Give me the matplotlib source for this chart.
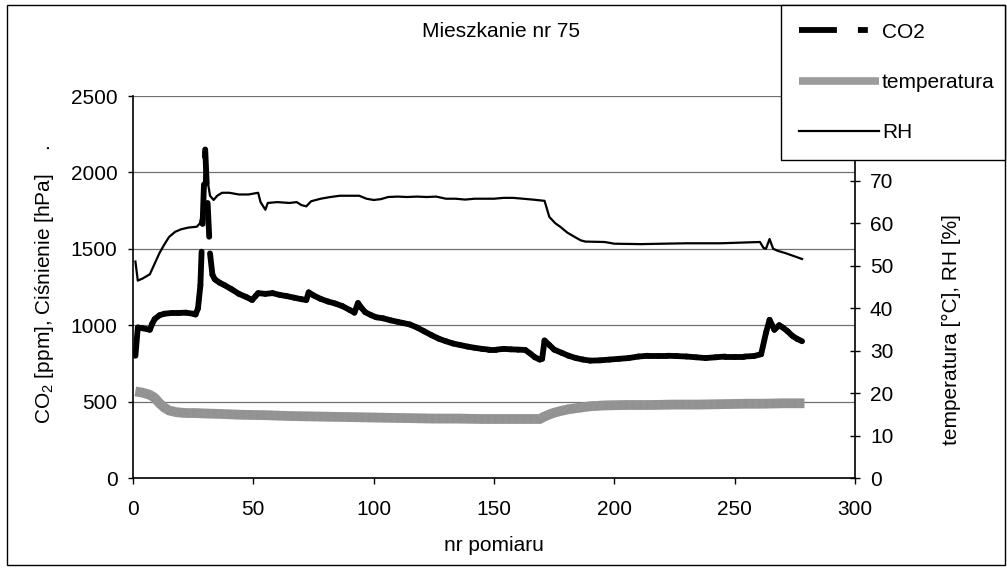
import numpy as np
import matplotlib
matplotlib.use("Agg")
import matplotlib.pyplot as plt
from matplotlib.collections import LineCollection
from matplotlib.lines import Line2D
from matplotlib.patches import Rectangle

plt.rcParams['font.family'] = ['Liberation Sans', 'DejaVu Sans']
plt.rcParams['mathtext.fontset'] = 'custom'
plt.rcParams['mathtext.rm'] = 'Liberation Sans'
plt.rcParams['mathtext.it'] = 'Liberation Sans:italic'
plt.rcParams['mathtext.bf'] = 'Liberation Sans:bold'

# ---------------- data ----------------
title = "Mieszkanie nr 75"
x_label = "nr pomiaru"
left_label = "CO$_2$ [ppm], Ciśnienie [hPa]    ."
right_label = "temperatura [°C], RH [%]"
series_names = ["CO2", "temperatura", "RH"]

x_ticks = [0, 50, 100, 150, 200, 250, 300]
left_ticks = [0, 500, 1000, 1500, 2000, 2500]
# 80 and 90 lie under the legend box in the reference
right_ticks = [0, 10, 20, 30, 40, 50, 60, 70]

co2_x = [1, 2, 4, 7, 8, 9, 11, 13, 16, 19, 22, 25, 26, 27, 28, 29, 30, 31, 32, 33,
         34, 36, 38, 41, 44, 47, 49.5, 51, 52, 55, 58, 61, 64, 67, 70, 72, 73, 75, 78, 81,
         84, 87, 90, 92, 93.5, 95, 96.5, 99, 101, 104, 107, 110, 112, 115, 118, 121, 124, 127, 130, 133,
         136, 139, 142, 145, 148, 151, 154, 157, 160, 163, 165, 167, 169, 170, 171, 173, 175, 178, 181, 184,
         187, 190, 194, 198, 202, 206, 210, 214, 218, 222, 226, 230, 234, 238, 242, 246, 250, 254, 258, 261,
         263, 264.5, 266.5, 268.5, 270, 272, 274, 276, 278]
co2_y = [800, 985, 980, 970, 1010, 1040, 1065, 1075, 1080, 1080, 1082, 1075, 1070, 1110, 1260, 1700, 2150, 1800, 1470, 1330,
         1300, 1278, 1262, 1235, 1205, 1185, 1165, 1192, 1210, 1205, 1210, 1198, 1190, 1180, 1170, 1165, 1215, 1195, 1172, 1155,
         1142, 1125, 1100, 1082, 1145, 1112, 1085, 1065, 1052, 1045, 1032, 1022, 1015, 1005, 985, 960, 935, 912, 895, 880,
         870, 860, 852, 845, 840, 840, 845, 842, 840, 838, 815, 790, 775, 780, 900, 870, 840, 820, 800, 785,
         775, 768, 770, 775, 780, 785, 795, 800, 800, 800, 798, 795, 790, 785, 790, 795, 795, 795, 798, 810,
         950, 1035, 970, 1000, 985, 960, 930, 910, 895]

rh_x = [1, 2, 4, 7, 9, 11, 13, 15, 17.5, 20, 23, 26.5, 27.8, 29, 30, 31, 32, 33.5, 35, 37,
        40, 44, 48, 52, 53, 55, 56, 60, 65, 68, 70, 72, 74, 78, 82, 86, 90, 94, 97, 100,
        103, 106, 110, 114, 118, 122, 126, 130, 134, 138, 142, 146, 150, 154, 158, 162, 166, 171, 173, 175.5,
        177.5, 180.5, 183.5, 186, 188, 196, 200, 211, 220, 230, 244, 255, 260.5, 262, 263, 264.5, 266, 268, 271, 274,
        277, 278]
rh_y = [51, 46.5, 47, 48, 50.5, 53, 55, 56.8, 58, 58.6, 59, 59.2, 60, 63, 76, 70, 66.5, 65.5, 66.5, 67.2,
        67.2, 66.8, 66.8, 67.2, 65, 63.2, 64.8, 65, 64.8, 65, 64.3, 64, 65.2, 65.8, 66.2, 66.5, 66.5, 66.5, 65.8, 65.5,
        65.7, 66.2, 66.3, 66.2, 66.3, 66.2, 66.3, 65.8, 65.8, 65.6, 65.8, 65.8, 65.8, 66, 66, 65.8, 65.6, 65.3, 61.5, 60,
        59.2, 57.8, 56.8, 56, 55.7, 55.6, 55.2, 55.1, 55.2, 55.3, 55.3, 55.5, 55.6, 54.2, 54.0, 56.3, 54, 53.5, 53, 52.4,
        51.8, 51.6]

temp_x = [1, 4, 7, 9, 11, 13, 15, 18, 22, 26, 30, 36, 45, 55, 65, 75, 85, 95, 105, 115,
          125, 135, 145, 155, 165, 169, 171, 174, 177, 181, 186, 190, 196, 205, 215, 225, 235, 245, 255, 262,
          270, 279]
temp_y = [20.4, 20.1, 19.6, 18.9, 17.6, 16.6, 15.9, 15.5, 15.3, 15.3, 15.2, 15.1, 14.9, 14.8, 14.6, 14.5, 14.4, 14.3, 14.2, 14.1,
          14.0, 14.0, 13.9, 13.9, 13.9, 13.9, 14.5, 15.2, 15.7, 16.2, 16.6, 16.9, 17.1, 17.2, 17.2, 17.3, 17.3, 17.4, 17.5, 17.5,
          17.6, 17.6]

assert len(co2_x) == len(co2_y) and len(rh_x) == len(rh_y) and len(temp_x) == len(temp_y)

# ---------------- styling ----------------
W, H = 1007, 570
FS = 15
temp_color = '#9c9c9c'
co2_lw = 4.2

fig = plt.figure(figsize=(W / 100, H / 100), dpi=100)
fig.patches.append(Rectangle((7 / W, 1 - 565 / H), (1005 - 7) / W, (565 - 5) / H,
                             transform=fig.transFigure, fill=False, edgecolor='black',
                             linewidth=1.0, zorder=0))

ax = fig.add_axes([133 / W, 1 - 478 / H, 722 / W, 382 / H])
ax2 = ax.twinx()

# CO2: each segment restarts the dash pattern (Excel style)
pts = np.column_stack([co2_x, co2_y])
segs = np.stack([pts[:-1], pts[1:]], axis=1)
lc = LineCollection(segs, colors='black', linewidths=co2_lw,
                    linestyles=[(0, (5.8, 4.75, 0.8, 4.75))],
                    capstyle='round', joinstyle='round', zorder=3)
ax.add_collection(lc)

ax2.plot(temp_x, temp_y, color=temp_color, lw=7.0, solid_capstyle='butt', zorder=2)
ax2.plot(temp_x, temp_y, color='#7a7a7a', lw=7.0, solid_capstyle='butt', zorder=2,
         dashes=(0.06, 0.06), alpha=0.5)
ax2.plot(rh_x, rh_y, color='black', lw=1.6, zorder=3)

ax.set_xlim(0, 300)
ax.set_ylim(0, 2500)
ax2.set_ylim(0, 90)
ax.set_xticks(x_ticks)
ax.set_yticks(left_ticks)
ax2.set_yticks(right_ticks)

ax.yaxis.grid(True, color='#707070', lw=0.9)
ax.set_axisbelow(True)

for a in (ax, ax2):
    a.spines['top'].set_visible(False)
    a.patch.set_visible(False)
ax.spines['right'].set_visible(False)
ax2.spines['left'].set_visible(False)
ax2.spines['bottom'].set_visible(False)
for s in ('left', 'bottom'):
    ax.spines[s].set_linewidth(1.2)
ax2.spines['right'].set_linewidth(1.2)

ax.tick_params(axis='y', direction='out', length=3.6, width=1, pad=7.5, labelsize=FS)
ax.tick_params(axis='x', direction='out', length=4.3, width=1, pad=11.5, labelsize=FS)
ax2.tick_params(axis='y', direction='inout', length=7.2, width=1, pad=7.2, labelsize=FS)

fig.text(0.498, 1 - 37 / H, title, ha='center', va='baseline', fontsize=FS)
fig.text(494 / W, 1 - 551 / H, x_label, ha='center', va='baseline', fontsize=FS)
fig.text(45 / W, 1 - 284 / H, left_label, ha='center', va='center', rotation=90, fontsize=FS)
fig.text(951 / W, 1 - 330 / H, right_label, ha='center', va='center', rotation=90, fontsize=FS)

handles = [
    Line2D([], [], color='black', lw=co2_lw, dashes=(6.5, 3.6, 1.7, 3.6), dash_capstyle='butt'),
    Line2D([], [], color=temp_color, lw=5.5, solid_capstyle='butt'),
    Line2D([], [], color='black', lw=1.6),
]
leg = fig.legend(handles, series_names, loc='upper left',
                 bbox_to_anchor=(781 / W, 1 - 158 / H, (1005 - 781) / W, (158 - 5) / H),
                 bbox_transform=fig.transFigure, mode='expand', borderaxespad=0,
                 fontsize=FS, handlelength=3.85, handletextpad=0.15, labelspacing=1.5,
                 borderpad=0.85, fancybox=False, framealpha=1, edgecolor='black')
leg.get_frame().set_linewidth(1.0)
leg.set_zorder(10)

fig.savefig("out.png", dpi=100)
